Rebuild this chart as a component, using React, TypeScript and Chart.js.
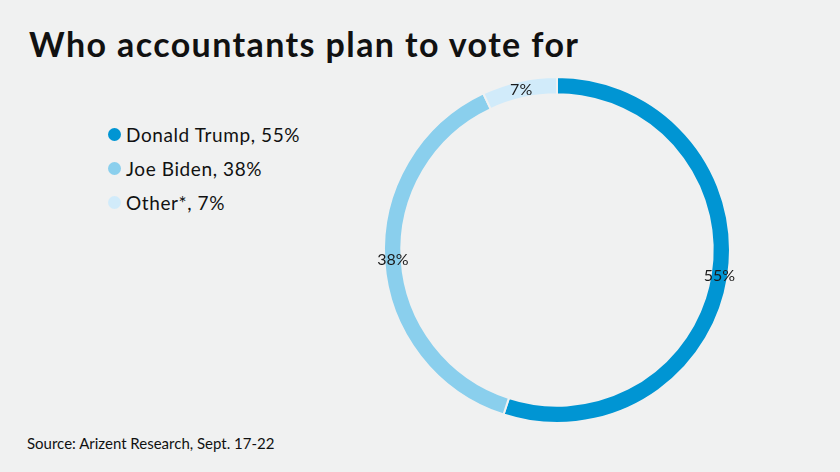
import React, { useEffect, useRef } from "react";
import { Chart, registerables } from "chart.js";

Chart.register(...registerables);

const categories = ["Donald Trump", "Joe Biden", "Other*"];
const values = [55, 38, 7];
const colors = ["#0095d3", "#8acfed", "#d1ebfa"];
const title = "Who accountants plan to vote for";
const source = "Source: Arizent Research, Sept. 17-22";
const BG = "#f0f1f1";
const FONT = "Lato, 'Open Sans', sans-serif";

const labelPlugin = {
  id: "ringLabels",
  afterDatasetsDraw(chart: any) {
    const ctx = chart.ctx;
    const meta = chart.getDatasetMeta(0);
    ctx.save();
    ctx.font = `16px ${FONT}`;
    ctx.fillStyle = "#1a1a1a";
    ctx.textAlign = "center";
    ctx.textBaseline = "middle";
    meta.data.forEach((arc: any, i: number) => {
      const p = arc.tooltipPosition();
      ctx.fillText(`${values[i]}%`, p.x, p.y);
    });
    ctx.restore();
  },
};

export default function App() {
  const ref = useRef<HTMLCanvasElement | null>(null);
  useEffect(() => {
    document.body.style.margin = "0";
    const chart = new Chart(ref.current as HTMLCanvasElement, {
      type: "doughnut",
      data: {
        labels: categories,
        datasets: [
          {
            data: values,
            backgroundColor: colors,
            borderColor: BG,
            borderWidth: 2,
          },
        ],
      },
      options: {
        animation: false,
        responsive: true,
        maintainAspectRatio: false,
        cutout: "90%",
        layout: { padding: 26 },
        plugins: {
          legend: { display: false },
          tooltip: { enabled: false },
        },
      },
      plugins: [labelPlugin],
    });
    return () => chart.destroy();
  }, []);

  return (
    <div
      style={{
        position: "fixed",
        left: 0,
        top: 0,
        width: 840,
        height: 472,
        background: BG,
        fontFamily: FONT,
        color: "#111",
        overflow: "hidden",
      }}
    >
      <div
        style={{
          position: "absolute",
          left: 29,
          top: 22,
          fontSize: 34,
          fontWeight: 700,
          lineHeight: "44px",
          letterSpacing: 1.4,
          whiteSpace: "nowrap",
        }}
      >
        {title}
      </div>
      <div style={{ position: "absolute", left: 108, top: 117 }}>
        {categories.map((c, i) => (
          <div
            key={c}
            style={{
              display: "flex",
              alignItems: "center",
              height: 34,
              fontSize: 19,
              letterSpacing: 0.6,
              whiteSpace: "nowrap",
            }}
          >
            <span
              style={{
                display: "inline-block",
                width: 13,
                height: 13,
                borderRadius: "50%",
                background: colors[i],
                marginRight: 5,
              }}
            />
            {`${c}, ${values[i]}%`}
          </div>
        ))}
      </div>
      <div
        style={{
          position: "absolute",
          left: 27,
          top: 434,
          fontSize: 15,
          letterSpacing: 0,
          whiteSpace: "nowrap",
        }}
      >
        {source}
      </div>
      <div
        style={{
          position: "absolute",
          left: 356.5,
          top: 49.5,
          width: 400,
          height: 400,
        }}
      >
        <canvas ref={ref} />
      </div>
    </div>
  );
}
